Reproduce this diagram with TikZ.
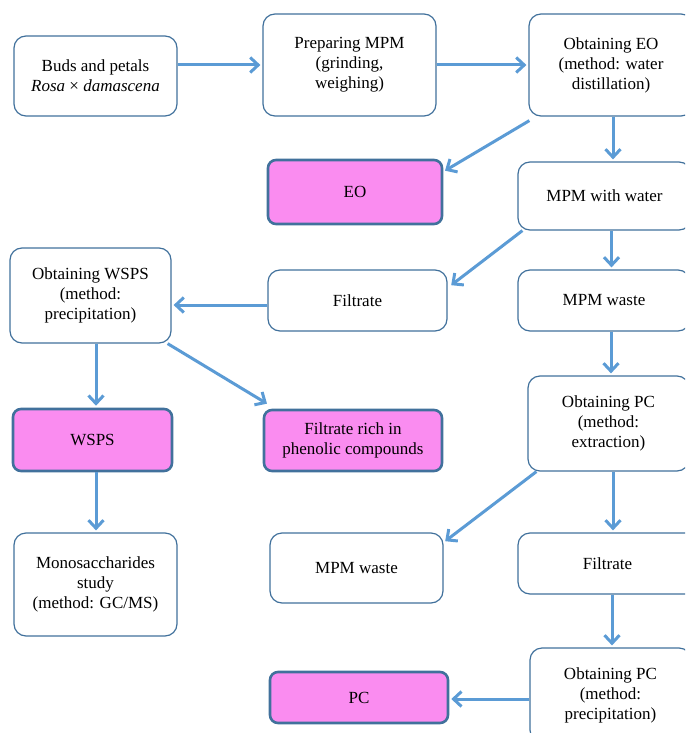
\documentclass[tikz,border=0pt]{standalone}
\usepackage{fontspec}
\setmainfont{Liberation Serif}
\usetikzlibrary{arrows.meta}

\definecolor{edgeblue}{RGB}{65,113,156}
\definecolor{flowblue}{RGB}{91,155,213}
\definecolor{pinkfill}{RGB}{250,140,240}

\begin{document}
\begin{tikzpicture}[
  x=1pt, y=-1pt,
  font=\fontsize{17}{20}\selectfont,
  proc/.style={
    draw=edgeblue, line width=1.2pt, rounded corners=12pt,
    align=center, fill=white, inner sep=2pt,
  },
  prod/.style={
    draw=edgeblue, line width=2.6pt, rounded corners=8pt,
    align=center, fill=pinkfill, inner sep=2pt,
  },
  flow/.style={-{Straight Barb[length=8pt,width=15pt]}, line width=3pt,
    color=flowblue, shorten >=2pt},
]
\useasboundingbox (0,0) rectangle (685,733);
\clip (0,0) rectangle (685,733);

% top row
\node[proc, minimum width=163pt, minimum height=80pt] (buds) at (95.5,76)
  {Buds and petals\\\textit{Rosa} × \textit{damascena}};
\node[proc, minimum width=173pt, minimum height=102pt] (prep) at (349.5,65)
  {Preparing MPM\\(grinding,\\weighing)};
\node[proc, minimum width=164pt, minimum height=102pt] (obteo) at (611,65)
  {Obtaining EO\\(method: water\\distillation)};

% essential oil branch
\node[prod, minimum width=174pt, minimum height=64pt] (eo) at (355,192) {EO};
\node[proc, minimum width=173pt, minimum height=68pt] (water) at (604.5,196) {MPM with water};

% water-soluble polysaccharides branch
\node[proc, minimum width=161pt, minimum height=95pt] (obtwsps) at (90.5,295.5)
  {Obtaining WSPS\\(method:\\precipitation)};
\node[proc, minimum width=179pt, minimum height=61pt] (filt) at (357.5,300.5) {Filtrate};
\node[proc, minimum width=172pt, minimum height=61pt] (waste) at (604,300.5) {MPM waste};
\node[prod, minimum width=159pt, minimum height=62pt] (wsps) at (92.5,440) {WSPS};
\node[prod, minimum width=178pt, minimum height=61pt] (rich) at (353,440.5)
  {Filtrate rich in\\phenolic compounds};
\node[proc, minimum width=161pt, minimum height=95pt] (obtpc) at (608.5,423.5)
  {Obtaining PC\\(method:\\extraction)};
\node[proc, minimum width=163pt, minimum height=103pt] (mono) at (95.5,584.5)
  {Monosaccharides\\study\\(method: GC/MS)};

% phenolic compounds branch
\node[proc, minimum width=173pt, minimum height=70pt] (waste2) at (356.5,568) {MPM waste};
\node[proc, minimum width=179pt, minimum height=61pt] (filt2) at (607.5,563.5) {Filtrate};
\node[proc, minimum width=161pt, minimum height=94pt] (precpc) at (610.5,695)
  {Obtaining PC\\(method:\\precipitation)};
\node[prod, minimum width=178pt, minimum height=51pt] (pc) at (359,697.5) {PC};

\draw[flow] (buds.east |- prep.west) -- (prep.west);
\draw[flow] (prep.east) -- (obteo.west);
\draw[flow] ([xshift=1pt,yshift=-4pt]obteo.south west) -- ([yshift=-13pt]eo.north east);
\draw[flow] ([xshift=2pt]obteo.south) -- ([xshift=2pt]obteo.south |- water.north);
\draw[flow] ([xshift=5pt]water.south west) -- ([xshift=2pt,yshift=-17pt]filt.north east);
\draw[flow] ([xshift=7pt]water.south) -- ([xshift=7pt]water.south |- waste.north);
\draw[flow] (filt.west |- 0,305) -- (obtwsps.east |- 0,305);
\draw[flow] (waste.south -| 611,0) -- (obtpc.north -| 611,0);
\draw[flow] (obtwsps.south -| 96,0) -- (wsps.north -| 96,0);
\draw[flow] ([xshift=-4pt]obtwsps.south east) -- ([xshift=6pt,yshift=4pt]rich.north west);
\draw[flow] (wsps.south -| 96,0) -- (mono.north -| 96,0);
\draw[flow] ([xshift=9pt]obtpc.south west) -- ([yshift=-10pt]waste2.north east);
\draw[flow] (obtpc.south -| 613,0) -- (filt2.north -| 613,0);
\draw[flow] (filt2.south -| 612,0) -- (precpc.north -| 612,0);
\draw[flow] (precpc.west |- 0,699) -- (pc.east |- 0,699);

\end{tikzpicture}
\end{document}
